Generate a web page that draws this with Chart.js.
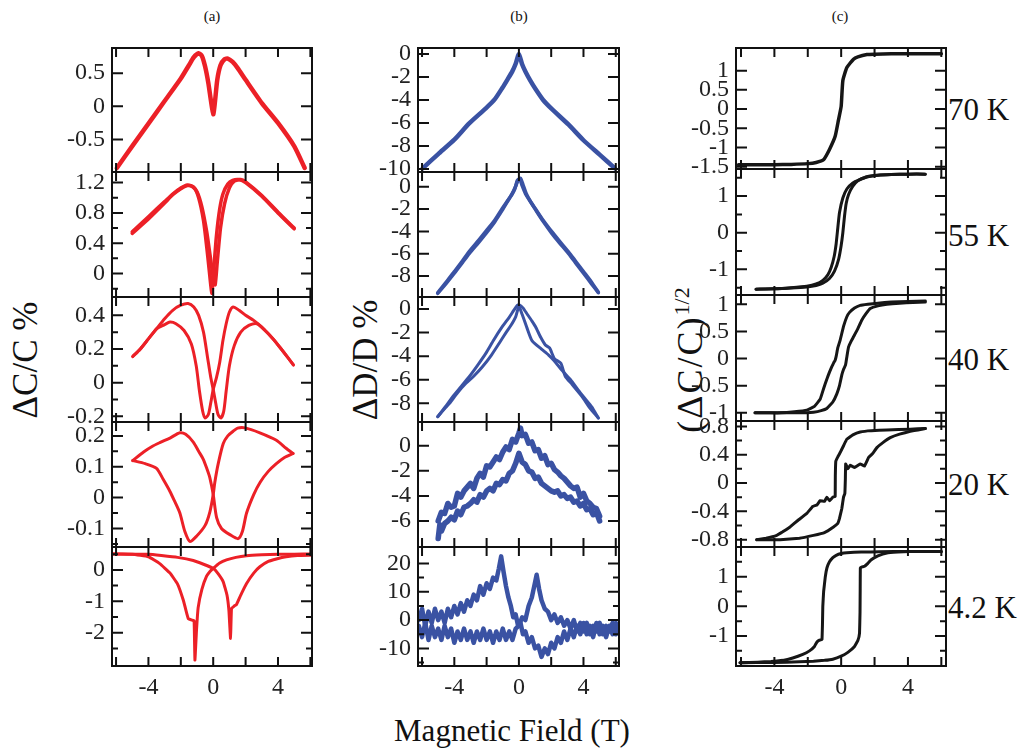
<!DOCTYPE html>
<html>
<head>
<meta charset="utf-8">
<script src="https://cdn.jsdelivr.net/npm/chart.js@4.4.0/dist/chart.umd.min.js"></script>
<style>
  body { margin: 0; background: #fff; width: 1027px; height: 748px; position: relative; overflow: hidden;
         font-family: "Liberation Serif", "Times New Roman", serif; color: #111; }
  canvas { position: absolute; }
  .t { position: absolute; white-space: nowrap; transform: translate(-50%, -50%); }
  .rot { transform: translate(-50%, -50%) rotate(-90deg); }
  .temp { position: absolute; font-size: 31px; white-space: nowrap; transform: translateY(-50%); }
</style>
</head>
<body>
<div class="t" style="left:212px;top:16px;font-size:15px">(a)</div>
<div class="t" style="left:519px;top:16px;font-size:15px">(b)</div>
<div class="t" style="left:840px;top:16px;font-size:15px">(c)</div>
<div class="t rot" style="left:26px;top:360px;font-size:35px">ΔC/C %</div>
<div class="t rot" style="left:366px;top:360px;font-size:35px">ΔD/D %</div>
<div class="t rot" style="left:690px;top:360px;font-size:36px;letter-spacing:2px">(ΔC/C)<sup style="font-size:22px;letter-spacing:0">1/2</sup></div>
<div class="t" style="left:512px;top:731px;font-size:31px">Magnetic Field (T)</div>
<div class="temp" style="left:948px;top:110px">70 K</div>
<div class="temp" style="left:948px;top:236px">55 K</div>
<div class="temp" style="left:948px;top:360px">40 K</div>
<div class="temp" style="left:948px;top:485px">20 K</div>
<div class="temp" style="left:948px;top:608px">4.2 K</div>

<script>
// ---- x axis ticks (shared) ----
const xTickMarks = [-6, -4, -2, 0, 2, 4, 6];
const xTickLabels = [-4, 0, 4];

// ---- column (a): ΔC/C % ----
const a1x = [-5.95, -5, -4, -3, -2, -1.5, -1.2, -0.9, -0.7, -0.5, -0.3, -0.15, 0, 0.1, 0.25, 0.45, 0.7, 0.9, 1.2, 1.5, 2, 3, 4, 5, 5.65];
const a1y = [-0.93, -0.6, -0.26, 0.08, 0.42, 0.62, 0.74, 0.8, 0.76, 0.6, 0.35, 0.1, -0.12, 0.05, 0.4, 0.62, 0.71, 0.72, 0.67, 0.58, 0.4, 0.05, -0.25, -0.6, -0.93];

const a2ax = [-5, -4, -3, -2.5, -2, -1.6, -1.2, -0.9, -0.6, -0.4, -0.25, -0.08, 0.05, 0.2, 0.4, 0.6, 0.9, 1.2, 1.6, 2, 3, 4, 5];
const a2ay = [0.55, 0.75, 0.95, 1.05, 1.13, 1.17, 1.14, 1.0, 0.7, 0.35, 0.05, -0.26, 0.1, 0.5, 0.85, 1.05, 1.18, 1.23, 1.24, 1.2, 1.02, 0.8, 0.59];
const a2bx = [-5, -4, -3, -2.5, -2, -1.6, -1.3, -1.0, -0.7, -0.4, -0.2, 0, 0.12, 0.25, 0.45, 0.7, 1.0, 1.3, 1.7, 2, 3, 4, 5];
const a2by = [0.53, 0.72, 0.93, 1.04, 1.12, 1.16, 1.15, 1.08, 0.88, 0.55, 0.25, -0.05, -0.15, 0.15, 0.6, 0.92, 1.13, 1.22, 1.24, 1.21, 1.03, 0.81, 0.6];

const a3ax = [-4.97, -4.5, -4, -3.5, -3, -2.5, -2, -1.55, -1.2, -0.9, -0.6, -0.35, -0.15, 0, 0.15, 0.3, 0.48, 0.65, 0.8, 1.0, 1.3, 1.7, 2.2, 2.7, 3.2, 3.7, 4.2, 4.6, 4.95];
const a3ay = [0.155, 0.2, 0.26, 0.32, 0.38, 0.43, 0.46, 0.47, 0.45, 0.4, 0.3, 0.15, 0.03, -0.04, -0.12, -0.19, -0.21, -0.17, -0.05, 0.1, 0.22, 0.3, 0.34, 0.35, 0.31, 0.26, 0.2, 0.15, 0.105];
const a3bx = [4.95, 4.6, 4.2, 3.7, 3.0, 2.5, 2.0, 1.6, 1.23, 1.0, 0.8, 0.6, 0.4, 0.2, 0, -0.15, -0.3, -0.5, -0.65, -0.85, -1.05, -1.35, -1.8, -2.3, -2.67, -3.0, -3.5, -4, -4.5, -4.97];
const a3by = [0.105, 0.15, 0.2, 0.26, 0.33, 0.37, 0.4, 0.43, 0.45, 0.42, 0.35, 0.25, 0.12, 0.03, -0.04, -0.12, -0.19, -0.21, -0.17, -0.05, 0.1, 0.23, 0.31, 0.35, 0.36, 0.345, 0.32, 0.26, 0.2, 0.155];

const a4ax = [-4.97, -4.3, -3.8, -3.3, -2.67, -2.06, -1.7, -1.23, -0.9, -0.62, -0.4, -0.21, 0, 0.21, 0.51, 1.03, 1.54, 1.8, 2.06, 2.5, 2.9, 3.4, 3.9, 4.4, 4.93];
const a4ay = [0.12, 0.148, 0.165, 0.178, 0.193, 0.21, 0.205, 0.18, 0.15, 0.125, 0.095, 0.065, 0.01, -0.065, -0.1, -0.12, -0.133, -0.11, -0.05, 0.01, 0.05, 0.085, 0.11, 0.13, 0.143];
const a4bx = [4.93, 4.5, 3.9, 2.88, 1.96, 1.5, 1.23, 0.9, 0.62, 0.31, 0.1, 0, -0.2, -0.5, -1.03, -1.44, -1.75, -2.06, -2.4, -2.67, -3.1, -3.5, -4.2, -4.97];
const a4by = [0.143, 0.16, 0.186, 0.21, 0.226, 0.225, 0.215, 0.2, 0.175, 0.11, 0.05, 0.01, -0.045, -0.09, -0.125, -0.142, -0.11, -0.05, -0.01, 0.02, 0.06, 0.095, 0.11, 0.12];

const a5ax = [-6.2, -5, -4, -3.3, -2.67, -2.2, -1.85, -1.6, -1.54, -1.3, -1.18, -1.13, -1.03, -0.93, -0.7, -0.41, -0.2, 0, 0.4, 0.82, 1.4, 2.06, 3, 4, 5, 6.1];
const a5ay = [0.51, 0.5, 0.42, 0.2, -0.1, -0.45, -0.96, -1.45, -1.55, -1.6, -1.62, -2.87, -1.9, -1.2, -0.62, -0.2, -0.05, 0.05, 0.22, 0.32, 0.4, 0.45, 0.48, 0.5, 0.5, 0.51];
const a5bx = [-6.2, -5, -4, -3.2, -2.2, -1.23, -0.6, 0, 0.3, 0.62, 0.85, 0.97, 1.07, 1.13, 1.3, 1.44, 1.7, 2.06, 2.5, 2.88, 3.4, 3.9, 4.5, 5.2, 6.1];
const a5by = [0.51, 0.5, 0.5, 0.46, 0.4, 0.3, 0.18, 0.05, -0.12, -0.38, -0.8, -1.3, -2.18, -1.23, -1.15, -1.1, -0.8, -0.43, -0.1, 0.1, 0.27, 0.35, 0.42, 0.46, 0.47];

// ---- column (b): ΔD/D % ----
const b1x = [-5.96, -5, -4, -3.08, -2.05, -1.5, -1.03, -0.7, -0.41, -0.2, 0, 0.2, 0.41, 0.7, 1.03, 1.5, 2.05, 3.08, 4, 5, 5.95];
const b1y = [-9.94, -8.7, -7.45, -6.03, -4.72, -3.95, -2.96, -2.2, -1.51, -0.85, 0, -0.9, -1.55, -2.3, -3.05, -4.0, -4.8, -6.15, -7.5, -8.75, -9.94];

const b2ax = [-5.03, -4.5, -4, -3.5, -3.08, -2.5, -2.05, -1.5, -1.03, -0.7, -0.41, -0.2, -0.05, 0.1, 0.25, 0.45, 0.75, 1.03, 1.5, 2.05, 2.5, 3.08, 3.5, 4, 4.5, 4.92];
const b2ay = [-9.56, -8.65, -7.75, -6.8, -6.0, -5.0, -4.2, -3.15, -2.1, -1.3, -0.6, 0.05, 0.6, 0.75, 0.2, -0.6, -1.4, -2.05, -3.1, -4.2, -5.0, -6.0, -6.8, -7.75, -8.7, -9.5];
const b2bx = [-5.03, -4.5, -4, -3.5, -3.08, -2.5, -2.05, -1.5, -1.03, -0.7, -0.45, -0.25, -0.1, 0.05, 0.2, 0.4, 0.7, 1.03, 1.5, 2.05, 2.5, 3.08, 3.5, 4, 4.5, 4.92];
const b2by = [-9.5, -8.55, -7.6, -6.65, -5.8, -4.8, -4.0, -3.0, -1.95, -1.25, -0.75, -0.2, 0.55, 0.7, 0.1, -0.6, -1.3, -2.0, -3.0, -4.05, -4.85, -5.85, -6.65, -7.6, -8.55, -9.45];

const b3ax = [-5.03, -4.5, -4.1, -3.6, -3.08, -2.55, -2.05, -1.55, -1.03, -0.6, -0.31, -0.1, 0.05, 0.25, 0.5, 0.8, 1.03, 1.35, 1.64, 1.9, 2.2, 2.6, 2.87, 3.3, 3.9, 4.4, 4.92];
const b3ay = [-9.13, -8.2, -7.43, -6.6, -5.74, -4.75, -3.76, -2.6, -1.5, -0.7, -0.1, 0.3, 0.34, 0.1, -0.4, -1.0, -1.5, -2.4, -3.05, -3.3, -4.2, -4.6, -5.7, -6.4, -7.4, -8.4, -9.24];
const b3bx = [4.92, 4.51, 4.1, 3.69, 3.2, 2.67, 2.2, 1.84, 1.4, 0.82, 0.5, 0.2, 0.0, -0.2, -0.5, -0.8, -1.23, -1.7, -2.26, -2.8, -3.28, -3.8, -4.3, -4.7, -5.03];
const b3by = [-9.24, -8.3, -7.6, -6.9, -6.0, -5.2, -4.4, -3.9, -3.4, -2.7, -1.6, -0.45, 0.2, -0.66, -1.4, -2.0, -2.92, -3.9, -4.9, -5.7, -6.3, -7.1, -8.0, -8.6, -9.13];

const b4ax = [-5.0, -4.8, -4.6, -4.4, -4.2, -4.0, -3.8, -3.6, -3.4, -3.2, -3.0, -2.8, -2.6, -2.4, -2.2, -2.0, -1.8, -1.6, -1.4, -1.2, -1.0, -0.8, -0.6, -0.4, -0.2, 0.0, 0.1, 0.2, 0.4, 0.6, 0.8, 1.0, 1.2, 1.4, 1.6, 1.8, 2.0, 2.2, 2.4, 2.6, 2.8, 3.0, 3.2, 3.4, 3.6, 3.8, 4.0, 4.2, 4.4, 4.6, 4.8, 5.0];
const b4ay = [-6.0, -5.3, -5.4, -4.6, -4.9, -4.8, -3.8, -4.1, -3.6, -3.3, -3.0, -3.4, -2.6, -2.2, -2.5, -1.6, -1.7, -1.3, -0.9, -1.1, -0.5, -0.1, -0.3, 0.5, 0.3, 1.0, 1.4, 0.8, 0.9, 0.2, 0.3, -0.4, -0.3, -1.0, -0.8, -1.5, -1.4, -1.9, -2.1, -2.4, -2.6, -2.9, -3.2, -3.4, -3.3, -4.1, -3.8, -4.4, -4.6, -4.9, -5.0, -5.6];
const b4bx = [-5.0, -4.9, -4.8, -4.6, -4.4, -4.2, -4.0, -3.8, -3.6, -3.4, -3.2, -3.0, -2.8, -2.6, -2.4, -2.2, -2.0, -1.8, -1.6, -1.4, -1.2, -1.0, -0.8, -0.6, -0.4, -0.2, 0.0, 0.2, 0.4, 0.6, 0.8, 1.0, 1.2, 1.4, 1.6, 1.8, 2.0, 2.2, 2.4, 2.6, 2.8, 3.0, 3.2, 3.4, 3.6, 3.8, 4.0, 4.2, 4.4, 4.6, 4.8, 5.0];
const b4by = [-7.4, -6.3, -6.8, -6.2, -6.0, -5.7, -5.9, -5.2, -5.5, -4.9, -4.8, -4.6, -4.3, -4.5, -3.9, -4.1, -3.6, -3.4, -3.6, -3.0, -3.1, -2.7, -2.8, -2.2, -2.0, -1.4, -0.6, -1.3, -1.5, -2.0, -2.1, -2.6, -2.5, -3.0, -3.2, -3.4, -3.6, -3.7, -3.6, -4.0, -3.9, -4.2, -4.1, -4.5, -4.4, -4.8, -4.6, -5.1, -5.0, -5.5, -5.3, -6.0];

const b5ax = [-6.2, -6.0, -5.8, -5.6, -5.4, -5.2, -5.0, -4.8, -4.6, -4.4, -4.2, -4.0, -3.8, -3.6, -3.4, -3.2, -3.0, -2.8, -2.6, -2.4, -2.2, -2.0, -1.8, -1.6, -1.4, -1.25, -1.1, -0.95, -0.8, -0.65, -0.5, -0.35, -0.2, -0.05, 0.1, 0.25, 0.4, 0.6, 0.8, 1.0, 1.2, 1.4, 1.6, 1.8, 2.0, 2.2, 2.4, 2.6, 2.8, 3.0, 3.2, 3.4, 3.6, 3.8, 4.0, 4.2, 4.4, 4.6, 4.8, 5.0, 5.2, 5.4, 5.6, 5.8, 6.0, 6.15];
const b5ay = [0, 4, -2, 3, -1, 4, 0, 3, -1, 4, 1, 5, 2, 6, 3, 7, 5, 9, 7, 12, 9, 13, 11, 15, 14, 18, 22.5, 17, 12, 8, 5, 1, 2, -2, -1, -5, -4, -8, -6, -10, -9, -13, -10, -12, -8, -10, -6, -8, -4, -7, -3, -6, -2, -5, -1, -5, -2, -6, -1, -5, -2, -6, -2, -5, -1, -4];
const b5bx = [-6.2, -6.0, -5.8, -5.6, -5.4, -5.2, -5.0, -4.8, -4.6, -4.4, -4.2, -4.0, -3.8, -3.6, -3.4, -3.2, -3.0, -2.8, -2.6, -2.4, -2.2, -2.0, -1.8, -1.6, -1.4, -1.2, -1.0, -0.8, -0.6, -0.4, -0.2, 0.0, 0.2, 0.4, 0.6, 0.8, 0.95, 1.1, 1.25, 1.4, 1.6, 1.8, 2.0, 2.2, 2.4, 2.6, 2.8, 3.0, 3.2, 3.4, 3.6, 3.8, 4.0, 4.2, 4.4, 4.6, 4.8, 5.0, 5.2, 5.4, 5.6, 5.8, 6.0, 6.15];
const b5by = [-2, -6, -1, -7, -2, -6, -3, -7, -2, -6, -3, -8, -4, -7, -3, -7, -4, -8, -4, -7, -3, -7, -4, -8, -4, -7, -3, -7, -4, -7, -3, -2, 1, 0, 5, 8, 12, 16, 11, 7, 4, 3, 0, 2, -1, 1, -2, 0, -3, 0, -4, -1, -4, -1, -5, -2, -4, -1, -5, -2, -4, -1, -5, -2];

// ---- column (c): (ΔC/C)^1/2 ----
const c1x = [-6.15, -5, -4, -3, -2, -1.5, -1.06, -0.7, -0.36, -0.16, 0, 0.1, 0.34, 0.74, 1.0, 1.54, 2, 3, 4, 5, 6.0];
const c1y = [-1.45, -1.45, -1.45, -1.44, -1.42, -1.39, -1.32, -1.05, -0.71, -0.28, 0.07, 0.74, 1.08, 1.3, 1.36, 1.42, 1.43, 1.44, 1.44, 1.44, 1.44];

const c2ax = [-5.1, -4, -3, -2.06, -1.5, -1.1, -0.8, -0.6, -0.42, -0.3, -0.22, -0.1, 0.1, 0.35, 0.7, 1.1, 1.54, 2.2, 3, 4, 5.04];
const c2ay = [-1.54, -1.53, -1.5, -1.46, -1.4, -1.3, -1.15, -0.95, -0.65, -0.3, 0.05, 0.55, 0.95, 1.2, 1.36, 1.45, 1.53, 1.57, 1.59, 1.6, 1.6];
const c2bx = [-5.1, -4, -3, -2.06, -1.5, -1.1, -0.7, -0.4, -0.15, 0.0, 0.1, 0.2, 0.3, 0.45, 0.7, 1.0, 1.54, 2.2, 3, 4, 5.04];
const c2by = [-1.54, -1.53, -1.51, -1.48, -1.44, -1.38, -1.25, -1.05, -0.72, -0.35, 0.0, 0.45, 0.8, 1.05, 1.27, 1.42, 1.52, 1.57, 1.59, 1.6, 1.6];

const c3ax = [5.04, 4, 3, 2.2, 1.6, 1.14, 0.8, 0.5, 0.34, 0.15, -0.06, -0.2, -0.3, -0.36, -0.45, -0.56, -0.7, -0.86, -1.05, -1.26, -1.6, -2.06, -2.8, -3.6, -4.4, -5.16];
const c3ay = [1.06, 1.05, 1.04, 1.02, 1.0, 0.98, 0.93, 0.85, 0.77, 0.6, 0.34, 0.2, 0.04, -0.03, -0.08, -0.15, -0.25, -0.38, -0.55, -0.75, -0.88, -0.95, -0.98, -1.0, -1.0, -1.0];
const c3bx = [-5.16, -4, -3, -2.06, -1.66, -1.2, -0.86, -0.5, -0.26, -0.1, 0.04, 0.14, 0.26, 0.3, 0.34, 0.44, 0.6, 0.74, 1.0, 1.24, 1.5, 1.74, 2.2, 2.74, 3.5, 4.3, 5.04];
const c3by = [-1.0, -1.0, -1.0, -1.0, -0.99, -0.96, -0.92, -0.8, -0.65, -0.5, -0.3, -0.2, -0.12, -0.05, 0.03, 0.21, 0.32, 0.4, 0.55, 0.71, 0.83, 0.92, 0.97, 1.0, 1.02, 1.03, 1.04];

const c4ax = [5.04, 4.14, 2.74, 1.8, 1.14, 0.7, 0.34, 0.15, -0.06, -0.2, -0.32, -0.35, -0.36, -0.5, -0.7, -0.86, -1.0, -1.26, -1.45, -1.7, -2.06, -2.6, -3.06, -3.5, -3.86, -4.5, -5.06];
const c4ay = [0.77, 0.76, 0.75, 0.74, 0.72, 0.68, 0.62, 0.53, 0.43, 0.37, 0.31, 0.1, -0.19, -0.2, -0.25, -0.2, -0.26, -0.25, -0.31, -0.33, -0.43, -0.53, -0.62, -0.69, -0.74, -0.78, -0.8];
const c4bx = [-5.06, -4.5, -3.66, -2.5, -1.66, -1.0, -0.46, -0.2, -0.1, 0.04, 0.14, 0.22, 0.25, 0.27, 0.4, 0.54, 0.8, 1.14, 1.4, 1.64, 1.9, 2.14, 2.5, 2.94, 3.5, 4.14, 4.6, 5.04];
const c4by = [-0.8, -0.8, -0.8, -0.78, -0.74, -0.7, -0.62, -0.57, -0.5, -0.36, -0.2, -0.15, 0.05, 0.27, 0.2, 0.25, 0.22, 0.27, 0.24, 0.36, 0.42, 0.5, 0.57, 0.64, 0.69, 0.73, 0.75, 0.77];

const c5ax = [6.0, 4.0, 2.3, 1.2, 0.34, 0.0, -0.3, -0.5, -0.7, -0.85, -0.95, -1.05, -1.1, -1.12, -1.15, -1.3, -1.45, -1.6, -1.9, -2.3, -2.9, -3.5, -4.2, -5, -6.06];
const c5ay = [1.85, 1.85, 1.84, 1.83, 1.81, 1.78, 1.72, 1.64, 1.5, 1.3, 1.0, 0.5, 0.0, -0.6, -1.12, -1.14, -1.2, -1.35, -1.5, -1.62, -1.74, -1.82, -1.86, -1.88, -1.9];
const c5bx = [-6.06, -4, -2.5, -1.66, -1.0, -0.5, 0, 0.4, 0.8, 1.0, 1.1, 1.13, 1.14, 1.15, 1.25, 1.4, 1.6, 1.8, 2.2, 2.74, 3.4, 4.1, 5.0, 6.0];
const c5by = [-1.9, -1.89, -1.87, -1.85, -1.82, -1.78, -1.68, -1.55, -1.35, -1.15, -0.9, -0.2, 0.6, 1.3, 1.33, 1.35, 1.45, 1.57, 1.7, 1.8, 1.83, 1.85, 1.85, 1.85];

// ---- y tick values per panel ----
const a1Major = [-0.5, 0, 0.5], a1Minor = [];
const a2Major = [0, 0.4, 0.8, 1.2], a2Minor = [-0.2, 0.2, 0.6, 1.0];
const a3Major = [-0.2, 0, 0.2, 0.4], a3Minor = [-0.1, 0.1, 0.3];
const a4Major = [-0.1, 0, 0.1, 0.2], a4Minor = [-0.15, -0.05, 0.05, 0.15];
const a5Major = [-2, -1, 0], a5Minor = [-2.5, -1.5, -0.5, 0.5];
const b1Major = [0, -2, -4, -6, -8, -10];
const b2Major = [0, -2, -4, -6, -8];
const b4Major = [0, -2, -4, -6];
const b5Major = [20, 10, 0, -10], b5Minor = [15, 5, -5, -15];
const c1Major = [1, 0.5, 0, -0.5, -1, -1.5];
const c2Major = [1, 0, -1], c2Minor = [1.5, 0.5, -0.5, -1.5];
const c3Major = [1, 0.5, 0, -0.5, -1];
const c4Major = [0.8, 0.4, 0, -0.4, -0.8], c4Minor = [0.6, 0.2, -0.2, -0.6];
const c5Major = [1, 0, -1], c5Minor = [1.5, 0.5, -0.5, -1.5];

const RED = '#ec2027', BLUE = '#3a52a3', BLACK = '#161616';
const LM = 80, PAD = 30, XB = 44;
const FONT = '"Liberation Serif", "Times New Roman", serif';

const panels = [
  // column a
  { x: 112, y: 48, w: 200, h: 124, xr: [-6.25, 6.1], yr: [-0.99, 0.88], maj: a1Major, min: a1Minor, col: RED, lw: 4.5, t: 0.2, s: [[a1x, a1y]] },
  { x: 112, y: 172, w: 200, h: 125, xr: [-6.25, 6.1], yr: [-0.31, 1.34], maj: a2Major, min: a2Minor, col: RED, lw: 3.5, t: 0.2, s: [[a2ax, a2ay], [a2bx, a2by]] },
  { x: 112, y: 297, w: 200, h: 125, xr: [-6.25, 6.1], yr: [-0.234, 0.509], maj: a3Major, min: a3Minor, col: RED, lw: 3, t: 0.25, s: [[a3ax, a3ay], [a3bx, a3by]] },
  { x: 112, y: 422, w: 200, h: 125, xr: [-6.25, 6.1], yr: [-0.16, 0.245], maj: a4Major, min: a4Minor, col: RED, lw: 3, t: 0.25, s: [[a4ax, a4ay], [a4bx, a4by]] },
  { x: 112, y: 547, w: 200, h: 119, xr: [-6.25, 6.1], yr: [-3.06, 0.73], maj: a5Major, min: a5Minor, col: RED, lw: 3, t: 0.1, s: [[a5ax, a5ay], [a5bx, a5by]], bottom: true },
  // column b
  { x: 418, y: 48, w: 201, h: 124, xr: [-6.25, 6.2], yr: [-10.26, 0.52], maj: b1Major, min: [], col: BLUE, lw: 4.5, t: 0.2, s: [[b1x, b1y]] },
  { x: 418, y: 172, w: 201, h: 125, xr: [-6.25, 6.2], yr: [-9.88, 1.32], maj: b2Major, min: [], col: BLUE, lw: 3.5, t: 0.2, s: [[b2ax, b2ay], [b2bx, b2by]] },
  { x: 418, y: 297, w: 201, h: 125, xr: [-6.25, 6.2], yr: [-9.58, 1.02], maj: b2Major, min: [], col: BLUE, lw: 3, t: 0.2, s: [[b3ax, b3ay], [b3bx, b3by]] },
  { x: 418, y: 422, w: 201, h: 125, xr: [-6.25, 6.2], yr: [-8.07, 1.89], maj: b4Major, min: [], col: BLUE, lw: 5.5, t: 0, s: [[b4ax, b4ay], [b4bx, b4by]] },
  { x: 418, y: 547, w: 201, h: 119, xr: [-6.25, 6.2], yr: [-16.2, 25.8], maj: b5Major, min: b5Minor, col: BLUE, lw: 4.5, t: 0, s: [[b5ax, b5ay], [b5bx, b5by]], bottom: true },
  // column c
  { x: 736, y: 48, w: 210, h: 121, xr: [-6.3, 6.28], yr: [-1.56, 1.59], maj: c1Major, min: [], col: BLACK, lw: 3.5, t: 0.15, s: [[c1x, c1y]] },
  { x: 736, y: 169, w: 210, h: 126, xr: [-6.3, 6.28], yr: [-1.7, 1.74], maj: c2Major, min: c2Minor, col: BLACK, lw: 3, t: 0.15, s: [[c2ax, c2ay], [c2bx, c2by]] },
  { x: 736, y: 295, w: 210, h: 126, xr: [-6.3, 6.28], yr: [-1.15, 1.17], maj: c3Major, min: [], col: BLACK, lw: 3, t: 0.1, s: [[c3ax, c3ay], [c3bx, c3by]] },
  { x: 736, y: 421, w: 210, h: 126, xr: [-6.3, 6.28], yr: [-0.904, 0.876], maj: c4Major, min: c4Minor, col: BLACK, lw: 3, t: 0.05, s: [[c4ax, c4ay], [c4bx, c4by]] },
  { x: 736, y: 547, w: 210, h: 119, xr: [-6.3, 6.28], yr: [-2.01, 2.0], maj: c5Major, min: c5Minor, col: BLACK, lw: 3, t: 0.05, s: [[c5ax, c5ay], [c5bx, c5by]], bottom: true }
];

// box with inward ticks on all four sides
function framePlugin(p) {
  return {
    id: 'frame',
    afterDatasetsDraw(chart) {
      const { ctx, chartArea: a } = chart;
      const xs = chart.scales.x, ys = chart.scales.y;
      ctx.save();
      ctx.strokeStyle = '#111';
      ctx.lineWidth = 2;
      ctx.beginPath();
      const yTick = (v, len) => {
        if (v < p.yr[0] || v > p.yr[1]) return;
        const py = ys.getPixelForValue(v);
        ctx.moveTo(a.left, py); ctx.lineTo(a.left + len, py);
        ctx.moveTo(a.right, py); ctx.lineTo(a.right - len, py);
      };
      p.maj.forEach(v => yTick(v, 11));
      p.min.forEach(v => yTick(v, 6));
      xTickMarks.forEach(v => {
        const px = xs.getPixelForValue(v);
        ctx.moveTo(px, a.top); ctx.lineTo(px, a.top + 9);
        ctx.moveTo(px, a.bottom); ctx.lineTo(px, a.bottom - 9);
      });
      ctx.stroke();
      ctx.strokeRect(a.left, a.top, a.right - a.left, a.bottom - a.top);
      ctx.restore();
    }
  };
}

function makePanel(p) {
  const c = document.createElement('canvas');
  c.width = LM + p.w + PAD;
  c.height = PAD + p.h + (p.bottom ? XB : PAD);
  c.style.left = (p.x - LM) + 'px';
  c.style.top = (p.y - PAD) + 'px';
  document.body.appendChild(c);

  new Chart(c, {
    type: 'scatter',
    data: {
      datasets: p.s.map(([xs, ys]) => ({
        data: xs.map((x, i) => ({ x, y: ys[i] })),
        showLine: true,
        borderColor: p.col,
        borderWidth: p.lw,
        pointRadius: 0,
        tension: p.t,
        fill: false,
        borderCapStyle: 'round',
        borderJoinStyle: 'round'
      }))
    },
    options: {
      responsive: false,
      animation: false,
      events: [],
      layout: { padding: { left: 0, top: PAD, right: PAD, bottom: p.bottom ? 0 : PAD } },
      plugins: { legend: { display: false }, tooltip: { enabled: false } },
      scales: {
        x: {
          type: 'linear', min: p.xr[0], max: p.xr[1], display: !!p.bottom,
          grid: { display: false, drawTicks: false }, border: { display: false },
          ticks: { font: { family: FONT, size: 24 }, color: '#222', padding: 7, autoSkip: false, maxRotation: 0, callback: v => String(v) },
          afterBuildTicks: s => { s.ticks = xTickLabels.map(v => ({ value: v })); },
          afterFit: s => { s.height = p.bottom ? XB : 0; }
        },
        y: {
          type: 'linear', min: p.yr[0], max: p.yr[1],
          grid: { display: false, drawTicks: false }, border: { display: false },
          ticks: { font: { family: FONT, size: 24 }, color: '#222', padding: 7, autoSkip: false, callback: v => String(v) },
          afterBuildTicks: s => { s.ticks = p.maj.filter(v => v >= p.yr[0] && v <= p.yr[1]).map(v => ({ value: v })); },
          afterFit: s => { s.width = LM; }
        }
      }
    },
    plugins: [framePlugin(p)]
  });
}

panels.forEach(makePanel);
</script>
</body>
</html>
